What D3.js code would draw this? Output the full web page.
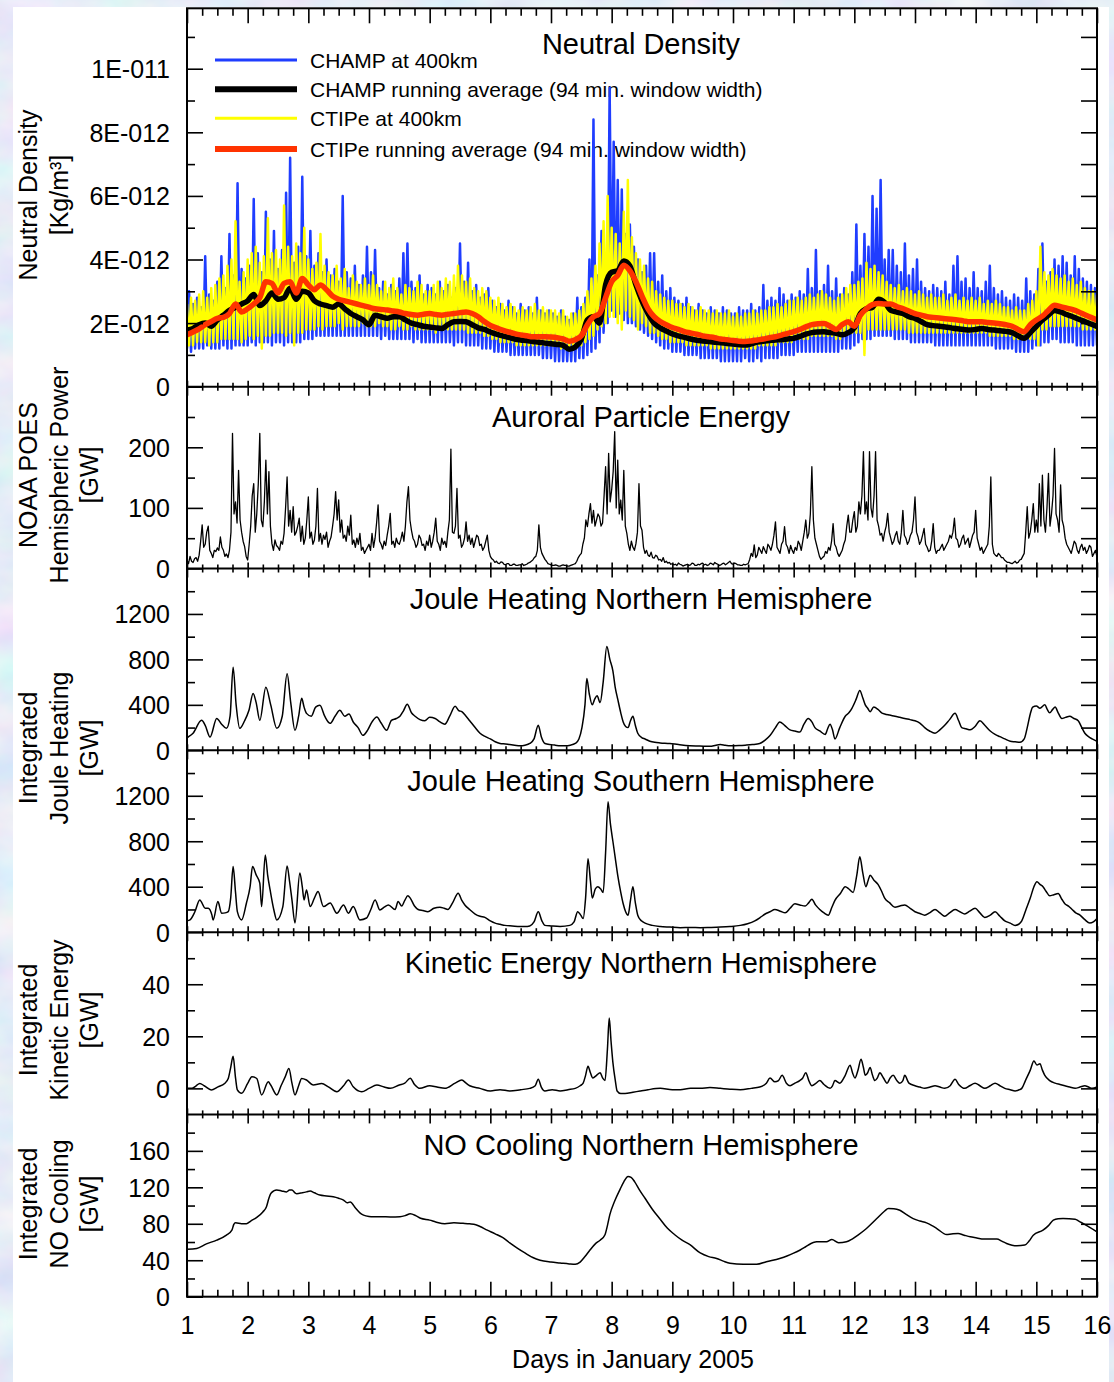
<!DOCTYPE html>
<html><head><meta charset="utf-8">
<script src="https://cdn.jsdelivr.net/npm/d3@7"></script>
<style>
body{margin:0;background:#cbd9ef}
svg{display:block;font-family:"Liberation Sans",Arial,sans-serif}
</style>
</head><body>
<svg id="c" width="1114" height="1382"></svg>
<script>
// ---------------- DATA ----------------
const dayTicks = d3.range(1, 17);
// Neutral density, units of 1E-012 kg/m3 (raw series in tenths), one value per half orbit
const rawStep = 1/30;
const champRaw = [
12,30,11,26,12,28,12,25,12,41,13,29,12,27,12,33,12,41,13,31,12,48,12,35,13,64,13,37,13,34,
13,38,14,59,13,42,14,36,14,55,14,40,13,49,14,37,14,43,13,61,14,72,14,39,14,44,14,66,15,41,
15,49,15,38,16,42,16,36,16,40,16,35,16,37,16,33,16,60,16,36,16,34,16,38,16,32,16,35,16,44,
16,36,16,43,16,31,15,33,16,29,15,32,15,30,15,34,15,42,15,45,15,33,14,31,15,35,14,29,14,32,
14,31,14,29,14,33,14,30,14,32,14,28,13,31,14,45,14,33,13,39,13,30,13,32,13,28,12,29,12,31,
12,27,11,25,11,26,11,24,11,27,10,25,10,23,10,26,10,24,10,25,10,23,10,28,10,24,9,23,9,24,
9,23,8,22,8,24,8,22,8,21,8,23,8,28,9,25,9,28,10,40,11,84,12,35,14,49,17,38,20,94,
24,77,22,65,23,62,21,48,20,51,20,44,19,40,18,36,17,38,16,42,15,42,14,33,13,35,12,30,12,31,
11,28,11,27,11,26,10,28,10,25,10,24,10,26,9,24,9,23,9,25,9,24,9,23,8,25,8,24,8,23,
8,23,8,25,8,24,9,24,8,26,8,24,9,25,8,32,9,27,9,28,9,27,9,31,10,29,10,27,10,29,
10,28,11,30,11,29,11,37,11,31,11,43,11,30,11,32,11,38,11,30,11,34,11,29,12,31,12,29,12,36,
13,51,14,38,15,48,15,44,15,60,16,56,16,65,16,40,16,43,16,43,15,38,15,36,15,45,15,35,14,37,
14,40,14,33,14,31,14,30,14,32,13,31,13,30,13,33,13,29,13,38,13,41,13,33,13,34,13,31,13,36,
13,31,13,30,13,33,13,38,13,31,12,29,12,30,12,28,12,27,12,29,11,28,11,27,11,34,11,30,12,29,
13,37,13,45,14,33,14,36,15,40,15,38,14,41,14,39,14,35,14,41,13,37,13,34,13,33,13,32,13,31,
13];
const ctipeRaw = [
26,13,28,13,27,14,29,14,30,14,28,13,31,14,32,14,34,15,35,15,38,15,40,15,52,15,33,14,36,15,
40,16,42,15,44,16,39,12,41,16,53,16,42,17,43,17,40,17,57,16,44,17,41,13,45,17,42,17,50,18,
40,18,37,18,39,19,48,18,38,19,36,19,35,19,38,20,34,18,37,19,31,19,35,19,33,19,32,20,34,19,
32,19,35,19,32,20,30,19,33,19,31,18,34,18,31,19,29,18,32,18,31,19,30,18,33,18,32,18,30,18,
30,18,32,17,33,18,31,18,34,18,33,18,35,18,38,18,35,18,33,17,34,17,31,17,30,17,31,16,30,16,
28,15,27,15,28,14,26,14,25,14,26,14,25,13,24,13,25,13,24,13,25,13,26,13,24,13,25,13,24,13,
24,13,24,13,23,12,24,12,22,12,23,12,23,13,24,13,26,14,30,15,34,16,38,18,45,19,52,20,60,22,
50,22,48,20,45,18,55,24,65,22,47,21,42,18,40,20,38,19,34,17,33,17,30,16,29,15,28,15,27,14,
27,14,26,14,26,14,25,13,26,13,25,13,24,13,25,13,24,13,24,12,23,12,24,12,23,12,23,12,24,12,
22,12,23,12,22,12,23,12,23,12,24,12,23,13,24,13,24,13,25,13,25,13,26,14,25,14,26,14,27,14,
27,15,28,15,27,15,28,15,29,16,28,16,29,16,30,16,29,16,28,16,27,15,28,15,29,16,31,17,32,17,
32,17,33,17,34,10,39,18,37,18,38,18,36,18,35,18,33,18,32,18,31,18,32,18,30,18,31,17,30,17,
29,17,30,17,29,17,28,17,29,17,28,17,28,17,29,17,27,17,28,17,29,17,27,17,28,17,27,17,28,17,
27,17,28,17,26,17,27,16,26,16,27,16,26,16,25,16,25,16,24,15,25,15,24,15,24,15,26,15,27,15,
30,13,44,18,36,18,35,19,37,19,35,19,34,19,35,19,33,19,34,19,32,19,33,18,31,18,30,18,30,18,
29];
const avgStep = 0.1;
const champAvg = [
1.78,1.83,1.95,2.0,1.9,2.1,2.25,2.4,2.5,2.6,
2.7,2.9,2.55,2.7,2.95,2.75,2.8,3.1,2.75,3.0,
2.95,2.7,2.6,2.55,2.5,2.6,2.45,2.3,2.2,2.1,
1.95,2.25,2.2,2.15,2.2,2.2,2.1,2.0,1.95,1.9,
1.88,1.85,1.83,1.95,2.04,2.05,2.04,1.95,1.85,1.8,
1.72,1.65,1.6,1.55,1.5,1.47,1.45,1.42,1.4,1.37,
1.35,1.33,1.3,1.18,1.25,1.5,2.1,2.2,2.0,3.2,
3.6,3.65,3.95,3.8,3.2,2.7,2.3,2.0,1.85,1.75,
1.66,1.6,1.55,1.5,1.46,1.44,1.42,1.4,1.38,1.36,
1.34,1.32,1.31,1.35,1.4,1.43,1.45,1.47,1.48,1.5,
1.52,1.58,1.65,1.7,1.72,1.73,1.7,1.68,1.63,1.7,
1.85,2.3,2.45,2.5,2.75,2.65,2.4,2.35,2.3,2.2,
2.15,2.05,1.95,1.92,1.9,1.88,1.85,1.82,1.8,1.78,
1.8,1.83,1.8,1.78,1.76,1.74,1.7,1.6,1.52,1.7,
1.9,2.1,2.25,2.4,2.35,2.27,2.2,2.12,2.05,1.97,
1.89];
const ctipeAvg = [
1.63,1.72,1.82,1.95,2.05,2.15,2.18,2.3,2.6,2.35,
2.45,2.6,2.8,3.3,3.25,2.95,3.25,3.3,2.95,3.4,
3.2,3.05,3.2,3.05,2.85,2.75,2.7,2.65,2.6,2.55,
2.5,2.45,2.43,2.41,2.38,2.35,2.3,2.27,2.25,2.28,
2.3,2.27,2.25,2.28,2.3,2.33,2.35,2.3,2.2,2.05,
1.93,1.85,1.78,1.72,1.67,1.63,1.6,1.57,1.57,1.57,
1.56,1.54,1.5,1.43,1.48,1.6,1.95,2.2,2.3,2.8,
3.3,3.5,3.82,3.65,3.3,2.85,2.45,2.2,2.05,1.95,
1.86,1.8,1.73,1.69,1.65,1.6,1.57,1.54,1.5,1.48,
1.45,1.43,1.42,1.44,1.47,1.5,1.54,1.57,1.62,1.68,
1.73,1.8,1.88,1.95,1.98,1.99,1.9,1.8,1.95,2.04,
1.9,2.25,2.45,2.58,2.62,2.6,2.6,2.52,2.46,2.38,
2.3,2.25,2.2,2.18,2.16,2.14,2.12,2.1,2.07,2.04,
2.04,2.04,2.02,2.0,1.98,1.95,1.9,1.8,1.73,1.95,
2.1,2.22,2.4,2.56,2.52,2.47,2.42,2.35,2.26,2.18,
2.1];
// Auroral hemispheric power [GW], 0.025 day step
const auroralStep = 0.025;
const auroral = [
14,8,20,12,10,16,18,12,22,45,72,35,40,60,70,30,25,18,30,28,34,30,52,35,30,20,24,18,30,60,223,90,110,75,162,80,60,45,36,20,
14,40,70,120,140,60,90,140,223,80,69,110,179,90,160,70,41,30,47,38,35,30,45,40,58,100,151,70,96,60,102,55,60,70,83,45,70,40,50,80,
118,50,60,40,47,70,132,45,58,40,55,48,60,35,45,52,70,90,127,80,113,60,80,50,55,45,70,55,88,40,47,35,50,40,58,30,35,25,30,35,
40,30,58,35,50,75,105,45,40,32,45,38,55,70,91,40,45,35,50,42,40,48,60,45,70,110,135,80,63,50,45,35,40,55,50,38,40,30,45,38,
55,35,45,60,83,45,40,30,50,40,45,35,60,80,197,60,58,70,132,50,55,35,40,50,77,45,55,40,50,35,45,55,52,38,40,30,35,45,55,30,
20,16,14,10,12,9,8,11,10,7,6,8,8,5,5,7,7,5,5,6,6,8,5,6,7,9,10,12,14,18,20,30,72,35,25,20,15,12,8,7,
6,5,5,6,5,4,4,5,6,5,5,4,4,5,6,7,8,12,18,22,25,40,50,80,69,90,107,75,96,70,80,90,85,70,75,120,168,90,190,110,
130,160,226,100,179,90,113,80,162,70,58,40,30,45,35,30,41,60,140,70,63,35,25,30,22,20,27,18,17,22,20,14,15,12,18,10,12,9,10,7,
8,6,7,5,9,7,6,4,5,6,7,5,6,9,8,5,5,7,6,8,9,6,7,5,6,9,8,6,10,8,7,5,6,8,9,6,8,10,12,8,
7,9,8,6,6,5,5,7,6,7,8,15,25,20,39,18,22,35,30,25,36,30,25,40,36,30,40,55,77,35,30,25,40,45,69,40,35,25,38,30,
25,35,30,45,40,30,45,60,80,50,58,90,168,80,50,40,30,20,15,18,20,28,25,35,30,45,74,40,35,25,20,25,30,40,47,70,88,60,60,80,
94,60,70,110,90,120,193,90,110,80,193,100,85,120,193,80,70,55,58,45,60,70,91,60,50,40,45,55,61,45,40,60,96,55,50,40,45,55,60,80,
118,60,52,40,45,55,66,40,35,28,30,45,74,35,25,30,30,35,40,30,35,40,45,55,50,60,83,50,47,35,40,50,55,40,45,50,35,45,55,60,
96,50,40,30,35,25,30,35,40,70,151,40,25,22,20,25,22,18,18,14,12,10,10,9,8,10,12,9,10,14,15,20,25,60,102,50,60,80,107,60,
80,60,140,70,154,80,60,100,157,70,90,120,198,90,80,60,138,80,70,50,40,35,30,25,35,45,41,30,25,35,40,30,35,25,30,38,35,20,25,30,
19];
// Joule heating north [day, GW]
const jouleN = [[1.0,110],[1.02,117],[1.1,150],[1.24,264],[1.3,220],[1.38,117],[1.49,280],[1.57,230],[1.65,193],[1.71,300],[1.76,732],[1.81,400],[1.87,193],[1.95,260],[2.02,350],[2.09,500],[2.14,420],[2.2,264],[2.3,556],[2.38,400],[2.48,193],[2.57,300],[2.65,674],[2.71,420],[2.78,176],[2.84,300],[2.89,457],[2.93,380],[2.97,325],[3.05,300],[3.12,380],[3.19,396],[3.27,300],[3.36,237],[3.44,300],[3.52,352],[3.6,300],[3.67,320],[3.74,249],[3.82,200],[3.9,132],[3.98,180],[4.05,250],[4.13,293],[4.2,240],[4.29,176],[4.37,264],[4.45,280],[4.51,300],[4.57,350],[4.63,405],[4.7,330],[4.76,300],[4.84,270],[4.92,260],[5.0,290],[5.09,280],[5.17,250],[5.25,230],[5.33,300],[5.42,387],[5.48,350],[5.53,340],[5.6,300],[5.66,260],[5.75,200],[5.83,150],[5.92,120],[6.0,100],[6.08,75],[6.16,60],[6.25,55],[6.32,50],[6.4,45],[6.49,40],[6.57,45],[6.65,60],[6.72,100],[6.79,220],[6.84,120],[6.9,60],[7.0,50],[7.07,45],[7.15,40],[7.23,40],[7.32,45],[7.4,60],[7.46,100],[7.51,200],[7.56,400],[7.59,633],[7.63,500],[7.68,400],[7.72,450],[7.76,480],[7.81,420],[7.86,600],[7.92,914],[7.97,800],[8.02,700],[8.06,550],[8.1,450],[8.15,330],[8.19,250],[8.23,210],[8.27,200],[8.31,260],[8.35,300],[8.39,220],[8.43,150],[8.5,110],[8.55,100],[8.63,80],[8.71,70],[8.8,65],[8.96,60],[9.1,50],[9.29,40],[9.45,38],[9.62,35],[9.72,45],[9.79,50],[9.87,45],[9.95,40],[10.1,42],[10.2,45],[10.32,50],[10.44,60],[10.53,90],[10.61,130],[10.7,200],[10.77,250],[10.85,220],[10.94,180],[11.02,170],[11.1,160],[11.17,230],[11.24,280],[11.3,250],[11.35,200],[11.43,170],[11.52,140],[11.56,190],[11.6,230],[11.64,180],[11.68,100],[11.76,200],[11.85,300],[11.91,330],[11.96,370],[12.03,450],[12.09,527],[12.14,460],[12.18,400],[12.22,370],[12.26,340],[12.32,380],[12.39,360],[12.45,330],[12.5,320],[12.58,310],[12.67,300],[12.75,290],[12.83,280],[12.92,270],[13.0,260],[13.08,240],[13.16,200],[13.24,170],[13.33,150],[13.41,180],[13.49,220],[13.57,270],[13.66,325],[13.72,260],[13.77,200],[13.84,190],[13.91,180],[13.99,210],[14.07,260],[14.15,220],[14.24,170],[14.32,140],[14.4,120],[14.48,100],[14.57,80],[14.65,75],[14.73,70],[14.8,100],[14.85,200],[14.9,320],[14.94,380],[15.0,390],[15.06,370],[15.14,400],[15.18,360],[15.22,330],[15.27,360],[15.31,380],[15.36,330],[15.42,280],[15.48,290],[15.55,300],[15.62,280],[15.69,260],[15.75,200],[15.8,150],[15.86,120],[15.92,100],[16.0,80]];
// Joule heating south [day, GW]
const jouleS = [[1.0,100],[1.05,108],[1.13,180],[1.21,284],[1.3,211],[1.35,211],[1.41,152],[1.43,108],[1.51,269],[1.57,167],[1.63,170],[1.68,181],[1.72,300],[1.76,577],[1.8,350],[1.83,181],[1.9,108],[1.98,257],[2.04,400],[2.08,577],[2.14,504],[2.2,431],[2.23,225],[2.29,680],[2.33,500],[2.37,372],[2.43,200],[2.48,108],[2.58,225],[2.65,583],[2.69,450],[2.73,284],[2.78,81],[2.86,521],[2.9,400],[2.93,284],[2.97,372],[3.03,225],[3.1,300],[3.16,357],[3.25,225],[3.36,257],[3.47,167],[3.58,240],[3.66,167],[3.74,225],[3.85,108],[3.96,125],[4.03,200],[4.1,284],[4.18,196],[4.25,220],[4.32,240],[4.43,200],[4.48,269],[4.54,230],[4.59,280],[4.64,320],[4.68,300],[4.75,230],[4.81,200],[4.89,190],[4.97,180],[5.07,210],[5.17,220],[5.24,210],[5.3,200],[5.38,260],[5.47,343],[5.53,280],[5.58,240],[5.66,200],[5.75,160],[5.83,140],[5.91,130],[6.0,100],[6.08,80],[6.16,70],[6.24,60],[6.36,55],[6.49,50],[6.57,50],[6.65,55],[6.72,90],[6.79,180],[6.85,100],[6.9,60],[7.0,55],[7.15,50],[7.31,60],[7.38,90],[7.44,180],[7.49,150],[7.53,120],[7.57,300],[7.61,645],[7.65,450],[7.68,300],[7.73,380],[7.77,400],[7.82,380],[7.86,350],[7.9,700],[7.94,1147],[7.98,950],[8.02,800],[8.06,650],[8.1,500],[8.15,350],[8.19,250],[8.23,180],[8.27,150],[8.31,280],[8.35,400],[8.39,260],[8.43,150],[8.49,100],[8.55,80],[8.67,60],[8.8,50],[8.96,45],[9.13,40],[9.3,42],[9.46,40],[9.62,42],[9.79,45],[9.95,50],[10.12,60],[10.24,75],[10.36,100],[10.45,130],[10.53,160],[10.61,180],[10.69,200],[10.78,185],[10.86,170],[10.94,210],[11.02,250],[11.1,240],[11.19,230],[11.25,260],[11.3,290],[11.36,240],[11.43,200],[11.5,170],[11.57,150],[11.63,220],[11.68,280],[11.77,340],[11.85,400],[11.91,380],[11.98,350],[12.04,500],[12.09,663],[12.14,520],[12.19,400],[12.23,460],[12.26,500],[12.32,460],[12.39,420],[12.45,360],[12.5,300],[12.58,260],[12.67,220],[12.75,230],[12.83,240],[12.92,210],[13.0,180],[13.08,165],[13.16,150],[13.24,170],[13.33,200],[13.41,170],[13.49,140],[13.57,170],[13.66,200],[13.74,180],[13.82,160],[13.9,185],[13.99,210],[14.07,170],[14.15,130],[14.24,150],[14.32,180],[14.4,140],[14.48,100],[14.57,80],[14.65,60],[14.71,70],[14.76,100],[14.83,200],[14.9,300],[14.96,400],[15.01,443],[15.06,420],[15.11,400],[15.16,360],[15.22,320],[15.29,330],[15.36,340],[15.42,290],[15.47,250],[15.53,230],[15.59,200],[15.65,170],[15.72,150],[15.8,110],[15.88,80],[15.94,90],[16.0,120]];
// Kinetic energy north [day, GW]
const kinetic = [[1.0,0],[1.08,0],[1.15,1],[1.21,1.9],[1.29,0.9],[1.4,-0.6],[1.51,0.6],[1.62,1.9],[1.68,3.8],[1.72,8],[1.76,12.3],[1.8,4],[1.83,-0.6],[1.9,-1.9],[2.0,1.9],[2.07,4.5],[2.15,3.8],[2.23,-2.5],[2.34,2.5],[2.38,1.3],[2.48,-2.5],[2.55,1],[2.62,4.5],[2.68,7.6],[2.73,2],[2.78,-2.5],[2.84,1],[2.89,3.8],[2.97,3.2],[3.08,1.3],[3.22,1.9],[3.33,0.6],[3.47,-1.3],[3.58,1],[3.66,3.2],[3.74,0.6],[3.88,-1.3],[4.0,0],[4.13,1.3],[4.25,0.5],[4.35,0],[4.5,1.3],[4.59,2],[4.68,3.9],[4.75,1.5],[4.84,0],[5.0,1],[5.12,0.5],[5.25,0],[5.42,2],[5.53,3.2],[5.6,2],[5.66,1],[5.83,0],[6.0,-1],[6.16,-0.5],[6.32,-1],[6.5,-0.5],[6.65,0],[6.74,1],[6.79,3.5],[6.84,0.5],[6.9,-1],[7.02,-0.5],[7.15,-1],[7.28,-0.5],[7.4,0],[7.48,1],[7.53,2],[7.57,5],[7.61,8.5],[7.65,6],[7.69,4],[7.75,5],[7.81,6],[7.85,4],[7.89,3],[7.93,15],[7.96,27],[7.99,18],[8.02,10],[8.06,3],[8.09,-1],[8.15,-2],[8.22,-2],[8.35,-1.5],[8.47,-1],[8.6,-0.5],[8.8,0],[9.0,-0.5],[9.13,-0.5],[9.3,0],[9.46,0],[9.62,0.3],[9.79,0],[9.95,-0.3],[10.12,-0.5],[10.3,0],[10.44,0.5],[10.55,2],[10.61,4],[10.69,2.5],[10.75,3],[10.81,5],[10.88,2],[10.94,1],[11.02,2],[11.1,3],[11.15,4],[11.2,6],[11.25,3],[11.3,1],[11.37,2],[11.43,3],[11.5,1.5],[11.6,0],[11.64,1],[11.68,3],[11.76,2],[11.85,5],[11.93,8.9],[11.97,6],[12.01,4],[12.06,7],[12.11,11.2],[12.15,8],[12.18,5],[12.22,6],[12.26,8],[12.3,5],[12.34,3],[12.38,4],[12.42,6],[12.48,4],[12.54,2],[12.59,4],[12.64,5],[12.7,3],[12.75,2],[12.8,3],[12.83,5],[12.9,2],[13.0,1],[13.08,0.5],[13.16,0],[13.25,0.5],[13.33,1],[13.41,0.5],[13.49,0],[13.58,1],[13.66,3.5],[13.72,1.5],[13.82,0],[13.9,1],[13.99,2],[14.07,1],[14.15,0],[14.24,1],[14.32,2],[14.4,1],[14.48,0],[14.57,-0.5],[14.65,-1],[14.72,-0.5],[14.76,0],[14.82,3],[14.9,7],[14.96,10.5],[15.01,9],[15.06,9.5],[15.1,7],[15.14,5],[15.22,3],[15.31,2],[15.39,1.5],[15.47,1],[15.55,0.5],[15.64,0],[15.72,0.5],[15.8,1],[15.86,0.5],[15.92,0],[16.0,0.5]];
// NO cooling north [day, GW]
const noCooling = [[1.0,52],[1.16,53],[1.32,58],[1.49,62],[1.65,67.6],[1.74,73],[1.77,79],[1.8,81],[1.9,80],[1.98,80],[2.05,83],[2.15,87],[2.25,93],[2.31,98.7],[2.35,108],[2.38,113],[2.43,116],[2.48,117],[2.56,116],[2.64,115],[2.69,117],[2.73,117],[2.78,114],[2.81,113],[2.9,114],[2.97,115],[3.03,116],[3.1,114],[3.19,111.5],[3.3,110.5],[3.41,109.6],[3.5,108],[3.58,106],[3.64,103],[3.69,104],[3.78,97],[3.85,92],[3.91,89.5],[4.0,88],[4.07,87.7],[4.2,87.7],[4.35,87.5],[4.51,87.7],[4.6,89],[4.68,91],[4.77,89],[4.85,86],[5.0,84],[5.1,82],[5.25,80],[5.4,81],[5.55,80.5],[5.66,80],[5.76,79],[5.83,77],[5.95,73],[6.08,69],[6.2,65],[6.32,59],[6.45,53],[6.57,48],[6.7,43],[6.82,40],[7.0,38],[7.15,37],[7.3,36],[7.4,35.6],[7.48,38],[7.56,44],[7.64,51],[7.73,58],[7.81,62],[7.89,68],[7.93,78],[7.97,90],[8.05,105],[8.14,118],[8.2,126],[8.27,132],[8.32,131],[8.38,126],[8.46,117],[8.55,108],[8.67,96],[8.8,85],[8.92,75],[9.04,68],[9.16,62],[9.29,57],[9.46,48],[9.6,44],[9.73,42],[9.84,39],[9.95,36.6],[10.17,35.5],[10.39,35.5],[10.55,38.4],[10.77,42],[10.9,45],[10.99,47.5],[11.1,51],[11.18,54],[11.24,56.6],[11.38,60.2],[11.54,60.2],[11.63,62.8],[11.74,59.2],[11.87,60.2],[11.97,63.5],[12.06,67.5],[12.2,74.8],[12.37,85.7],[12.5,94],[12.56,96.7],[12.65,96.5],[12.75,94.8],[12.86,90],[12.97,85.7],[13.08,83],[13.19,81],[13.28,78],[13.36,74.8],[13.52,68.2],[13.6,68.8],[13.71,69.4],[13.81,67.5],[13.91,65.7],[14.02,64.5],[14.13,63.2],[14.35,63.2],[14.43,61],[14.51,58.4],[14.6,56.5],[14.68,55.9],[14.81,56.6],[14.88,61],[14.95,67.5],[15.11,73],[15.2,78],[15.28,84],[15.36,85.5],[15.44,85.7],[15.64,85],[15.7,83],[15.77,80.3],[15.88,76],[16.0,71.1]];

const legendLabels = ["CHAMP at 400km","CHAMP running average (94 min. window width)","CTIPe at 400km","CTIPe running average (94 min. window width)"];
const panelTitles = ["Neutral Density","Auroral Particle Energy","Joule Heating Northern Hemisphere","Joule Heating Southern Hemisphere","Kinetic Energy Northern Hemisphere","NO Cooling Northern Hemisphere"];
const xTitle = "Days in January 2005";

// ---------------- LAYOUT ----------------
const W = 1114, H = 1382, L = 187, R = 1097;
const tops = [8.3, 386.7, 568.5, 750.3, 932.2, 1114.4, 1296.7];
const svg = d3.select("#c");
const defs = svg.append("defs");
const flt = defs.append("filter").attr("id","marble").attr("x",0).attr("y",0).attr("width","100%").attr("height","100%");
flt.append("feTurbulence").attr("type","fractalNoise").attr("baseFrequency","0.012 0.02").attr("numOctaves",4).attr("seed",7);
flt.append("feColorMatrix").attr("type","matrix").attr("values","0.45 0 0 0 0.56  0 0.32 0 0 0.68  0 0 0.14 0 0.86  0 0 0 0 1");
svg.append("rect").attr("width",W).attr("height",H).attr("filter","url(#marble)");
svg.append("rect").attr("x",13).attr("y",7).attr("width",1096).attr("height",H-7).attr("fill","#fff");

const x = d3.scaleLinear().domain([1,16]).range([L,R]);
const fmtND = v => v===0 ? "0" : (v===10 ? "1E-011" : v+"E-012");
const panels = [
  {dom:[0,11.9], major:[0,2,4,6,8,10], minor:[1,3,5,7,9,11], fmt:fmtND},
  {dom:[0,300], major:[0,100,200], minor:[50,150,250], fmt:d3.format("d")},
  {dom:[0,1600], major:[0,400,800,1200], minor:[200,600,1000,1400], fmt:d3.format("d")},
  {dom:[0,1600], major:[0,400,800,1200], minor:[200,600,1000,1400], fmt:d3.format("d")},
  {dom:[-10,60], major:[0,20,40], minor:[10,30,50], fmt:d3.format("d")},
  {dom:[0,200], major:[0,40,80,120,160], minor:[20,60,100,140,180], fmt:d3.format("d")}
];
panels.forEach((p,i)=>{ p.top=tops[i]; p.bot=tops[i+1]; p.y=d3.scaleLinear().domain(p.dom).range([p.bot,p.top]); });

const tw = 1.6;
function styleAxis(g){
  g.select(".domain").remove();
  g.selectAll(".tick line").attr("stroke","#000").attr("stroke-width",tw);
  g.attr("font-family",null).attr("font-size",null);
  g.selectAll("text").attr("fill","#000").style("font-size","25px").style("font-family","'Liberation Sans',Arial,sans-serif");
}

panels.forEach((p,i)=>{
  defs.append("clipPath").attr("id","clip"+i).append("rect").attr("x",L).attr("y",p.top).attr("width",R-L).attr("height",p.bot-p.top);
});

// titles
panels.forEach((p,i)=>{
  svg.append("text").attr("x",641).attr("y", i===0 ? 54 : p.top+40.5).attr("text-anchor","middle")
    .style("font-size","29px").attr("fill","#000").text(panelTitles[i]);
});

// legend (beneath the data)
const legColors = ["#1f3dff","#000000","#ffff00","#ff3300"];
const legWidths = [3,6,3,6];
const legY = [60,89.3,118.3,149];
legendLabels.forEach((t,i)=>{
  svg.append("line").attr("x1",215).attr("x2",297).attr("y1",legY[i]).attr("y2",legY[i])
    .attr("stroke",legColors[i]).attr("stroke-width",legWidths[i]);
  svg.append("text").attr("x",310).attr("y",legY[i]+8).style("font-size","21px").attr("fill","#000").text(t);
});

// data lines
function plot(i, data, color, width, curve){
  const p = panels[i];
  const line = d3.line().x(d=>x(d[0])).y(d=>p.y(d[1])).curve(curve||d3.curveLinear);
  svg.append("path").attr("clip-path",`url(#clip${i})`).attr("d",line(data))
    .attr("fill","none").attr("stroke",color).attr("stroke-width",width).attr("stroke-linejoin","round");
}
const stepSeries = (arr, step, scale) => arr.map((v,k)=>[1+k*step, v*scale]);
plot(0, stepSeries(champRaw, rawStep, 0.1), "#1f3dff", 2.5);
plot(0, stepSeries(ctipeRaw, rawStep, 0.1), "#ffff00", 2.5);
plot(0, stepSeries(champAvg, avgStep, 1), "#000", 5.5, d3.curveMonotoneX);
plot(0, stepSeries(ctipeAvg, avgStep, 1), "#ff3300", 5.5, d3.curveMonotoneX);
plot(1, stepSeries(auroral, auroralStep, 1), "#000", 1.3);
plot(2, jouleN, "#000", 1.5, d3.curveMonotoneX);
plot(3, jouleS, "#000", 1.5, d3.curveMonotoneX);
plot(4, kinetic, "#000", 1.5, d3.curveMonotoneX);
plot(5, noCooling, "#000", 1.5, d3.curveMonotoneX);

// y axes
panels.forEach((p,i)=>{
  svg.append("g").attr("transform",`translate(${L},0)`)
    .call(d3.axisLeft(p.y).tickValues(p.major).tickSize(-16).tickPadding(17).tickFormat(p.fmt)).call(styleAxis)
    .selectAll("text").attr("dy","0.36em");
  svg.append("g").attr("transform",`translate(${L},0)`)
    .call(d3.axisLeft(p.y).tickValues(p.minor).tickSize(-8).tickFormat("")).call(styleAxis);
  svg.append("g").attr("transform",`translate(${R},0)`)
    .call(d3.axisRight(p.y).tickValues(p.major.concat(p.minor).filter(v=>v>p.dom[0])).tickSize(-16).tickFormat("")).call(styleAxis);
});

// x axes
const xMajor = dayTicks;
const xMinor = d3.range(1,16,0.25).filter(v=>v%1!==0);
svg.append("g").attr("transform",`translate(0,${tops[0]})`).call(d3.axisTop(x).tickValues(xMajor).tickSize(-15).tickFormat("")).call(styleAxis);
svg.append("g").attr("transform",`translate(0,${tops[0]})`).call(d3.axisTop(x).tickValues(xMinor).tickSize(-7.5).tickFormat("")).call(styleAxis);
for(let k=1;k<6;k++){
  const yy = tops[k];
  svg.append("g").attr("transform",`translate(0,${yy})`).call(d3.axisBottom(x).tickValues(xMajor).tickSize(9).tickFormat("")).call(styleAxis);
  svg.append("g").attr("transform",`translate(0,${yy})`).call(d3.axisTop(x).tickValues(xMajor).tickSize(6).tickFormat("")).call(styleAxis);
  svg.append("g").attr("transform",`translate(0,${yy})`).call(d3.axisBottom(x).tickValues(xMinor).tickSize(4).tickFormat("")).call(styleAxis);
  svg.append("g").attr("transform",`translate(0,${yy})`).call(d3.axisTop(x).tickValues(xMinor).tickSize(4).tickFormat("")).call(styleAxis);
}
svg.append("g").attr("transform",`translate(0,${tops[6]})`)
  .call(d3.axisBottom(x).tickValues(xMajor).tickSize(-15).tickPadding(19.5).tickFormat(d3.format("d"))).call(styleAxis);
svg.append("g").attr("transform",`translate(0,${tops[6]})`)
  .call(d3.axisBottom(x).tickValues(xMinor).tickSize(-7).tickFormat("")).call(styleAxis);

// frame and separators
svg.append("rect").attr("x",L).attr("y",tops[0]).attr("width",R-L).attr("height",tops[6]-tops[0])
  .attr("fill","none").attr("stroke","#000").attr("stroke-width",2);
for(let k=1;k<6;k++){
  svg.append("line").attr("x1",L).attr("x2",R).attr("y1",tops[k]).attr("y2",tops[k]).attr("stroke","#000").attr("stroke-width",2);
}

// y axis titles
const yTitles = [
  {lines:["Neutral Density","[Kg/m³]"], c:195},
  {lines:["NOAA POES","Hemispheric Power","[GW]"], c:475},
  {lines:["Integrated","Joule Heating","[GW]"], c:748},
  {lines:["Integrated","Kinetic Energy","[GW]"], c:1020},
  {lines:["Integrated","NO Cooling","[GW]"], c:1204}
];
const baseX = [37,68,98];
yTitles.forEach(t=>{
  t.lines.forEach((s,j)=>{
    svg.append("text").attr("transform",`translate(${baseX[j]},${t.c}) rotate(-90)`).attr("text-anchor","middle")
      .style("font-size","25px").attr("fill","#000").text(s);
  });
});

svg.append("text").attr("x",633).attr("y",1368).attr("text-anchor","middle").style("font-size","25px").attr("fill","#000").text(xTitle);
</script>
</body></html>
